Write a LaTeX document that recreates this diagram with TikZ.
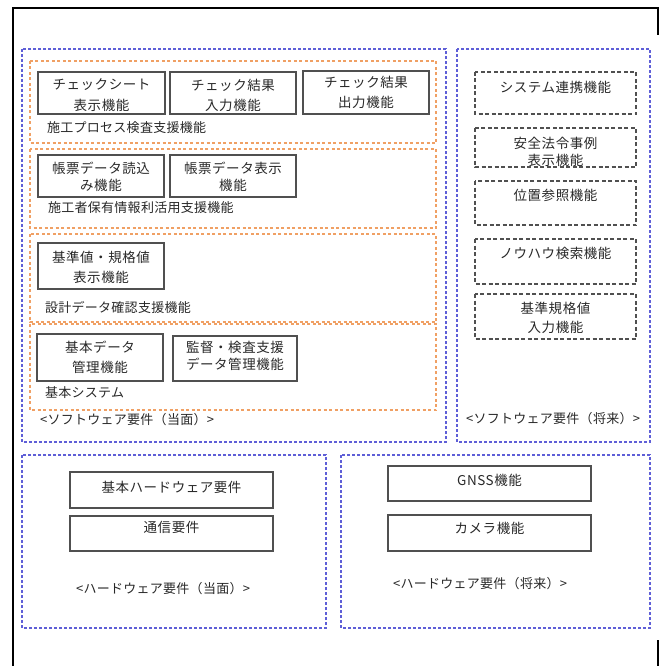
\documentclass[tikz,border=0pt]{standalone}
\usepackage{fontspec}
\setmainfont{Noto Sans CJK JP}
\newfontfamily\boxfont[LetterSpace=4]{Noto Sans CJK JP}
\newfontfamily\lblfont[LetterSpace=2]{Noto Sans CJK JP}
\definecolor{blueC}{RGB}{95,95,215}
\definecolor{orangeC}{RGB}{240,160,100}
\definecolor{boxC}{RGB}{80,80,80}
\definecolor{txtC}{RGB}{40,40,40}
\begin{document}
\begin{tikzpicture}[x=1pt,y=-1pt,
  frame/.style={line width=1.5pt,draw=black},
  bluebox/.style={draw=blueC,line width=1.5pt,dash pattern=on 2.6pt off 2.4pt},
  orangebox/.style={draw=orangeC,line width=1.1pt,dash pattern=on 3pt off 2.5pt},
  solidbox/.style={draw=boxC,line width=1.4pt},
  futbox/.style={draw=boxC,line width=1.2pt,dash pattern=on 4pt off 2.5pt},
  t/.style={inner sep=0pt,text=txtC,font=\boxfont\fontsize{13.5}{15}\selectfont},
  lbl/.style={inner sep=0pt,text=txtC,anchor=west,font=\lblfont\fontsize{13}{15}\selectfont}]
\useasboundingbox (0,0) rectangle (661,666);
% outer frame
\coordinate (f1) at (13,666);
\coordinate (f2) at (13,8);
\coordinate (f3) at (658,8);
\coordinate (f4) at (658,35);
\coordinate (f5) at (658,640);
\coordinate (f6) at (658,666);
\draw[frame] (f1) -- (f2) -- (f3) -- (f4);
\draw[frame] (f5) -- (f6);
% containers
\draw[bluebox] (22,49) rectangle (446,442);
\draw[bluebox] (457,49) rectangle (650,442);
\draw[bluebox] (22,455) rectangle (326,628);
\draw[bluebox] (341,455) rectangle (650,628);
\draw[orangebox] (30,61) rectangle (436,143);
\draw[orangebox] (30,149) rectangle (436,228);
\draw[orangebox] (30,234) rectangle (436,322);
\draw[orangebox] (30,324) rectangle (436,410);
% solid boxes
\draw[solidbox] (38,72) rectangle (165,114);
\node[t] (a1) at (101.5,85) {チェックシート};
\node[t] (a2) at (101.5,105) {表示機能};
\draw[solidbox] (170,72) rectangle (296,114);
\node[t] (b1) at (233,85) {チェック結果};
\node[t] (b2) at (233,105) {入力機能};
\draw[solidbox] (303,71) rectangle (429,114);
\node[t] (c1) at (366,82) {チェック結果};
\node[t] (c2) at (366,102) {出力機能};
\node[lbl] (l1) at (47,128) {施工プロセス検査支援機能};
\draw[solidbox] (38,155) rectangle (164,197);
\node[t] (d1) at (101,168) {帳票データ読込};
\node[t] (d2) at (101,185) {み機能};
\draw[solidbox] (170,155) rectangle (296,197);
\node[t] (e1) at (233,168) {帳票データ表示};
\node[t] (e2) at (233,185) {機能};
\node[lbl] (l2) at (48,208) {施工者保有情報利活用支援機能};
\draw[solidbox] (38,243) rectangle (164,289);
\node[t] (g1) at (101,257) {基準値・規格値};
\node[t] (g2) at (101,277) {表示機能};
\node[lbl] (l3) at (45,307) {設計データ確認支援機能};
\draw[solidbox] (37,334) rectangle (163,381);
\node[t] (h1) at (100,347) {基本データ};
\node[t] (h2) at (100,367) {管理機能};
\draw[solidbox] (173,336) rectangle (297,381);
\node[t] (i1) at (235,347) {監督・検査支援};
\node[t] (i2) at (235,364) {データ管理機能};
\node[lbl] (l4) at (45,393) {基本システム};
\node[lbl] (l5) at (40,420) {<ソフトウェア要件（当面）>};
% future software
\draw[futbox] (475,72) rectangle (636,114);
\node[t] (r1) at (555.5,87) {システム連携機能};
\draw[futbox] (475,128) rectangle (636,167);
\node[t] (r2a) at (555.5,143) {安全法令事例};
\node[t] (r2b) at (555.5,160) {表示機能};
\draw[futbox] (475,181) rectangle (636,225);
\node[t] (r3) at (555.5,195) {位置参照機能};
\draw[futbox] (475,239) rectangle (636,284);
\node[t] (r4) at (555.5,253) {ノウハウ検索機能};
\draw[futbox] (475,294) rectangle (636,339);
\node[t] (r5a) at (555.5,308) {基準規格値};
\node[t] (r5b) at (555.5,327) {入力機能};
\node[lbl] (l6) at (466,419) {<ソフトウェア要件（将来）>};
% hardware
\draw[solidbox] (70,472) rectangle (273,508);
\node[t] (hw1) at (171.5,487) {基本ハードウェア要件};
\draw[solidbox] (70,516) rectangle (273,551);
\node[t] (hw2) at (171.5,527) {通信要件};
\node[lbl] (l7) at (76,589) {<ハードウェア要件（当面）>};
\draw[solidbox] (388,466) rectangle (591,501);
\node[t] (hw3) at (489.5,480) {GNSS機能};
\draw[solidbox] (388,515) rectangle (591,551);
\node[t] (hw4) at (489.5,528) {カメラ機能};
\node[lbl] (l8) at (393,584) {<ハードウェア要件（将来）>};
\end{tikzpicture}
\end{document}
